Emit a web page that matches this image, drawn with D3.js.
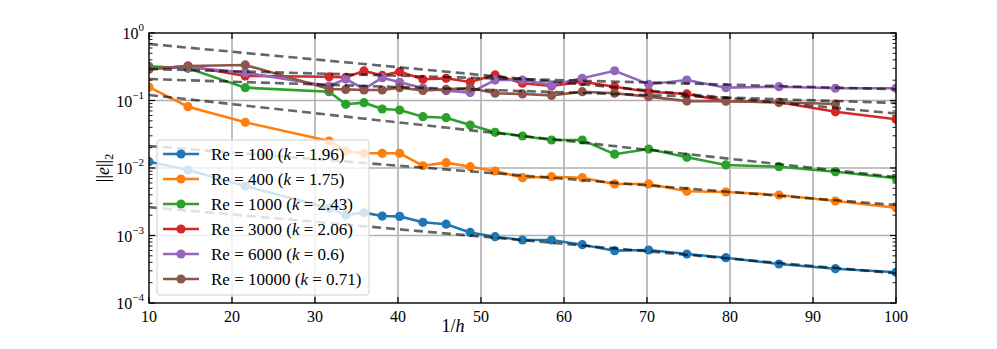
<!DOCTYPE html>
<html>
  <head>
    <meta charset="utf-8">
    <title>Error convergence</title>
    <script src="https://d3js.org/d3.v7.min.js"></script>
    <style>
      body { margin: 0; background: #fff; }
      svg text { font-family: "Liberation Serif", "DejaVu Serif", serif; fill: #000; }
    </style>
  </head>
  <body>
    <svg id="svg" width="997" height="349"></svg>
    <script>
      // data
      var xs = [10, 14.7, 21.6, 31.7, 33.7, 35.9, 38.1, 40.2, 43.0, 45.8, 48.7, 51.7, 55.0, 58.5, 62.2, 66.1, 70.2, 74.8, 79.5, 85.9, 92.7, 100];
      var re100 = [0.0124, 0.00934, 0.0054, 0.00253, 0.00201, 0.00218, 0.00194, 0.00192, 0.00157, 0.00147, 0.00111, 0.00096, 0.000858, 0.000858, 0.000731, 0.000596, 0.00061, 0.000532, 0.000469, 0.000378, 0.000322, 0.000285];
      var re400 = [0.158, 0.081, 0.0475, 0.0251, 0.0179, 0.0165, 0.0165, 0.0165, 0.0108, 0.0120, 0.01045, 0.00903, 0.00718, 0.00743, 0.00718, 0.0058, 0.0058, 0.00452, 0.00441, 0.00398, 0.00324, 0.00258];
      var re1000 = [0.32, 0.30, 0.155, 0.135, 0.0879, 0.0929, 0.0748, 0.0723, 0.0575, 0.0556, 0.0433, 0.0338, 0.0298, 0.026, 0.026, 0.016, 0.0191, 0.0144, 0.0111, 0.01045, 0.00881, 0.00703];
      var re3000 = [0.293, 0.324, 0.231, 0.225, 0.22, 0.274, 0.235, 0.267, 0.206, 0.213, 0.188, 0.239, 0.18, 0.164, 0.19, 0.16, 0.135, 0.125, 0.098, 0.094, 0.068, 0.0526];
      var re6000 = [0.293, 0.314, 0.258, 0.164, 0.208, 0.148, 0.218, 0.186, 0.153, 0.14, 0.131, 0.201, 0.201, 0.17, 0.213, 0.276, 0.174, 0.201, 0.155, 0.16, 0.152, 0.152];
      var re10000 = [0.293, 0.324, 0.336, 0.148, 0.146, 0.143, 0.143, 0.155, 0.141, 0.146, 0.153, 0.128, 0.125, 0.119, 0.135, 0.128, 0.114, 0.098, 0.098, 0.094, 0.0887];
      var reNames = ["100", "400", "1000", "3000", "6000", "10000"];
      var kValues = ["1.96", "1.75", "2.43", "2.06", "0.6", "0.71"];
      var fitStart = [0.00263, 0.0212, 0.1206, 0.687, 0.293, 0.208]; // fit value at 1/h = 10
      var xTicks = [10, 20, 30, 40, 50, 60, 70, 80, 90, 100];
      var yTicks = [1e-4, 1e-3, 1e-2, 1e-1, 1e0];
      var colours = ["#1f77b4", "#ff7f0e", "#2ca02c", "#d62728", "#9467bd", "#8c564b"];

      var seriesList = [re100, re400, re1000, re3000, re6000, re10000];

      // layout
      var pLeft = 149, pRight = 896, pTop = 33, pBottom = 303;
      var svg = d3.select("#svg");
      var x = d3.scaleLinear().domain([10, 100]).range([pLeft, pRight]);
      var y = d3.scaleLog().domain([1e-4, 1]).range([pBottom, pTop]);

      // grid
      var grid = svg.append("g");
      grid.selectAll(".vg").data(xTicks.slice(1, -1)).enter().append("line")
        .attr("x1", function(d) { return x(d); }).attr("x2", function(d) { return x(d); })
        .attr("y1", pTop).attr("y2", pBottom)
        .attr("stroke", "#b0b0b0").attr("stroke-width", 1.6);
      grid.selectAll(".hg").data(yTicks.slice(1, -1)).enter().append("line")
        .attr("x1", pLeft).attr("x2", pRight)
        .attr("y1", function(d) { return y(d); }).attr("y2", function(d) { return y(d); })
        .attr("stroke", "#b0b0b0").attr("stroke-width", 1.6);

      // axes with inward ticks on every side
      var minor = [];
      for (var e = -4; e < 0; e++) for (var m = 2; m < 10; m++) minor.push(m * Math.pow(10, e));
      function yAxis(g, side) {
        var dir = side == "left" ? 1 : -1;
        var x0 = side == "left" ? pLeft : pRight;
        g.selectAll(".maj").data(yTicks).enter().append("line")
          .attr("x1", x0).attr("x2", x0 + dir * 6)
          .attr("y1", function(d) { return y(d); }).attr("y2", function(d) { return y(d); })
          .attr("stroke", "#000").attr("stroke-width", 1.2);
        g.selectAll(".min").data(minor).enter().append("line")
          .attr("x1", x0).attr("x2", x0 + dir * 3.5)
          .attr("y1", function(d) { return y(d); }).attr("y2", function(d) { return y(d); })
          .attr("stroke", "#000").attr("stroke-width", 0.9);
      }
      yAxis(svg.append("g"), "left");
      yAxis(svg.append("g"), "right");
      [[pBottom, -1], [pTop, 1]].forEach(function(s) {
        svg.append("g").selectAll("line").data(xTicks).enter().append("line")
          .attr("x1", function(d) { return x(d); }).attr("x2", function(d) { return x(d); })
          .attr("y1", s[0]).attr("y2", s[0] + s[1] * 6)
          .attr("stroke", "#000").attr("stroke-width", 1.2);
      });

      // tick labels
      svg.append("g").selectAll("text").data(xTicks).enter().append("text")
        .attr("x", function(d) { return x(d); }).attr("y", pBottom + 19)
        .attr("text-anchor", "middle").attr("font-size", 16)
        .text(function(d) { return d; });
      var yl = svg.append("g").selectAll("text").data(yTicks).enter().append("text")
        .attr("x", pLeft - 5).attr("y", function(d) { return y(d) + 6; })
        .attr("text-anchor", "end").attr("font-size", 16);
      yl.append("tspan").text("10");
      yl.append("tspan").attr("dy", -8).attr("font-size", 11)
        .text(function(d) { var p = Math.round(Math.log10(d)); return p < 0 ? "\u2212" + (-p) : p; });

      // axis titles
      svg.append("text").attr("x", 453).attr("y", 332).attr("text-anchor", "middle")
        .attr("font-size", 18)
        .html('1/<tspan font-style="italic">h</tspan>');
      var ylab = svg.append("text").attr("transform", "translate(109,168) rotate(-90)")
        .attr("text-anchor", "middle").attr("font-size", 18);
      ylab.append("tspan").text("||");
      ylab.append("tspan").attr("font-style", "italic").text("e");
      ylab.append("tspan").text("||");
      ylab.append("tspan").attr("dy", 4).attr("font-size", 12).text("2");

      // data lines
      svg.append("defs").append("clipPath").attr("id", "clip")
        .append("rect").attr("x", pLeft).attr("y", pTop).attr("width", pRight - pLeft).attr("height", pBottom - pTop);
      var plot = svg.append("g").attr("clip-path", "url(#clip)");
      var line = d3.line().x(function(d) { return x(d[0]); }).y(function(d) { return y(d[1]); });
      seriesList.forEach(function(vals, i) {
        var pts = vals.map(function(v, j) { return [xs[j], v]; });
        var g = plot.append("g");
        g.append("path").attr("d", line(pts)).attr("fill", "none")
          .attr("stroke", colours[i]).attr("stroke-width", 2.6);
        g.selectAll("circle").data(pts).enter().append("circle")
          .attr("cx", function(d) { return x(d[0]); }).attr("cy", function(d) { return y(d[1]); })
          .attr("r", 4.6).attr("fill", colours[i]);
      });

      // power-law fits: e = C (x/10)^(-k/2)
      fitStart.forEach(function(c, i) {
        var k = +kValues[i];
        var pts = [10, 100].map(function(v) { return [v, c * Math.pow(v / 10, -k / 2)]; });
        plot.append("path").attr("d", line(pts)).attr("fill", "none")
          .attr("stroke", "#000").attr("stroke-opacity", 0.6)
          .attr("stroke-width", 2.6).attr("stroke-dasharray", "9,5");
      });

      // frame
      svg.append("rect").attr("x", pLeft).attr("y", pTop).attr("width", pRight - pLeft).attr("height", pBottom - pTop)
        .attr("fill", "none").attr("stroke", "#000").attr("stroke-width", 1.4);

      // legend
      var legend = svg.append("g").attr("transform", "translate(157,140)");
      legend.append("rect").attr("width", 212).attr("height", 155).attr("rx", 3)
        .attr("fill", "#fff").attr("fill-opacity", 0.8).attr("stroke", "#d0d0d0").attr("stroke-width", 1);
      var rows = legend.selectAll(".row").data(reNames).enter().append("g")
        .attr("transform", function(d, i) { return "translate(0," + (14 + i * 25) + ")"; });
      rows.append("line").attr("x1", 6).attr("x2", 42).attr("y1", 0).attr("y2", 0)
        .attr("stroke", function(d, i) { return colours[i]; }).attr("stroke-width", 2.6);
      rows.append("circle").attr("cx", 24).attr("cy", 0).attr("r", 4.6)
        .attr("fill", function(d, i) { return colours[i]; });
      var lt = rows.append("text").attr("x", 54).attr("y", 6).attr("font-size", 17);
      lt.append("tspan").text(function(d) { return "Re = " + d + " ("; });
      lt.append("tspan").attr("font-style", "italic").text("k");
      lt.append("tspan").text(function(d, i) { return " = " + kValues[i] + ")"; });
    </script>
  </body>
</html>
